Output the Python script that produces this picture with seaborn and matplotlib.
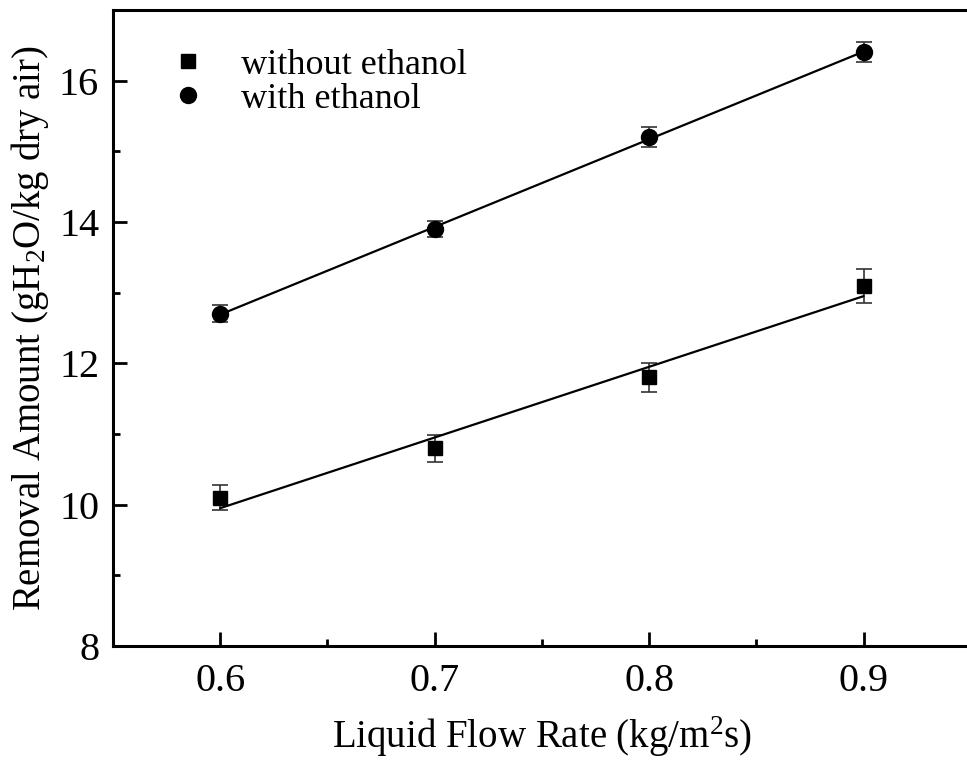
import matplotlib
matplotlib.use("Agg")
import matplotlib.pyplot as plt
import matplotlib.ticker as mticker
import seaborn as sns
import pandas as pd

# ── Data ──────────────────────────────────────────────────────────────────────
flow_rate = [0.6, 0.7, 0.8, 0.9]
without_ethanol = [10.1, 10.8, 11.8, 13.1]
without_err = [0.18, 0.19, 0.20, 0.24]
with_ethanol = [12.7, 13.9, 15.2, 16.4]
with_err = [0.12, 0.12, 0.14, 0.14]

INK = "#000000"

sns.set_theme(style="ticks")
plt.rcParams["font.family"] = ["Liberation Serif", "DejaVu Serif"]
plt.rcParams["mathtext.fontset"] = "custom"
plt.rcParams["mathtext.rm"] = "Liberation Serif"
plt.rcParams["mathtext.it"] = "Liberation Serif"
plt.rcParams["text.color"] = INK

fig = plt.figure(figsize=(9.67, 7.64), dpi=100)
ax = fig.add_axes([0.1169, 0.1545, 0.887, 0.8325])

df = pd.DataFrame({
    "x": flow_rate * 2,
    "y": without_ethanol + with_ethanol,
    "err": without_err + with_err,
    "group": ["without ethanol"] * 4 + ["with ethanol"] * 4,
})

for grp, marker, ms in [("without ethanol", "s", 10.5), ("with ethanol", "o", 11.5)]:
    sub = df[df["group"] == grp]
    ax.errorbar(sub["x"], sub["y"], yerr=sub["err"], fmt="none",
                ecolor="#333333", elinewidth=1.2, capsize=6, capthick=1.2, zorder=2)
    # linear fit drawn by seaborn
    sns.regplot(data=sub, x="x", y="y", ax=ax, scatter=False, ci=None,
                line_kws=dict(color=INK, lw=1.6, zorder=3))
    ax.plot(sub["x"], sub["y"], linestyle="none", marker=marker, ms=ms,
            color=INK, label=grp, zorder=4)

ax.set_xlim(0.55, 0.95)
ax.set_ylim(8, 17)
ax.xaxis.set_major_locator(mticker.FixedLocator(flow_rate))
ax.xaxis.set_minor_locator(mticker.MultipleLocator(0.05))
ax.yaxis.set_major_locator(mticker.MultipleLocator(2))
ax.yaxis.set_minor_locator(mticker.MultipleLocator(1))
ax.xaxis.set_major_formatter(mticker.FormatStrFormatter("%.1f"))

ax.tick_params(which="both", direction="in", top=False, right=False,
               colors=INK, labelsize=29, width=2)
ax.tick_params(which="major", length=10)
ax.tick_params(axis="x", which="major", pad=12)
ax.tick_params(axis="y", which="major", pad=10)
ax.tick_params(which="minor", length=5)
for s in ax.spines.values():
    s.set_linewidth(2.2)
    s.set_color(INK)
    s.set_visible(True)

ax.set_xlabel("Liquid Flow Rate (kg/m$^2$s)", fontsize=28, color=INK, labelpad=11)
ax.set_ylabel("Removal Amount (gH$_2$O/kg dry air)", fontsize=28, color=INK, labelpad=6)

ax.legend(loc="upper left", bbox_to_anchor=(0.029, 0.962), frameon=False,
          fontsize=26, labelcolor=INK, handlelength=2.0, handletextpad=0.45,
          labelspacing=0.02, borderaxespad=0.0)

fig.savefig("out.png", dpi=100)
